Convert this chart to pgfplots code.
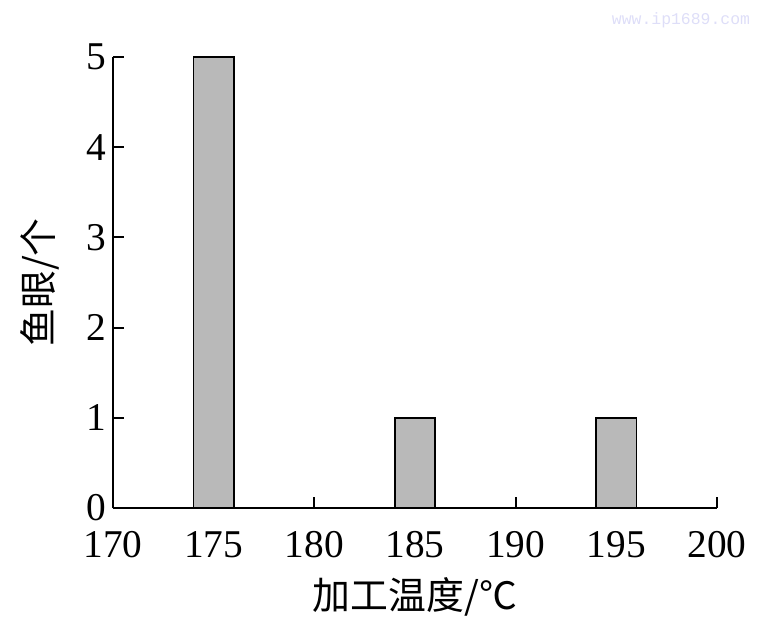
\documentclass[border=0pt]{standalone}
\usepackage{fontspec}
\setmainfont{Liberation Serif}
\setmonofont{Liberation Mono}
\newfontfamily\cjk{Noto Sans CJK SC}
\usepackage{pgfplots}
\pgfplotsset{compat=1.18}
\definecolor{barfill}{RGB}{185,185,185}
\definecolor{wm}{RGB}{222,222,248}
\begin{document}
\begin{tikzpicture}
\begin{axis}[
  name=ax,
  at={(0,0)}, anchor=south west,
  scale only axis,
  width=604bp, height=451bp,
  xmin=170, xmax=200, ymin=0, ymax=5,
  axis x line*=bottom, axis y line*=left,
  axis line style={line width=1.8bp, -},
  xtick={170,175,180,185,190,195,200},
  ytick={0,1,2,3,4,5},
  tick align=inside,
  major tick length=11bp,
  tick style={line width=1.8bp, black},
  /pgf/number format/assume math mode=true,
  /pgf/number format/1000 sep={},
  tick label style={font=\fontsize{39.5}{42}\selectfont},
  xticklabel style={yshift=-20bp},
  yticklabel style={xshift=-3bp},
  xlabel={{\cjk 加工温度/℃}},
  ylabel={{\cjk 鱼眼/个}},
  xlabel style={font=\fontsize{38}{42}\selectfont, at={(axis description cs:0.5,-0.196)}, anchor=center},
  ylabel style={font=\fontsize{38}{42}\selectfont, at={(axis description cs:-0.121,0.5)}, anchor=center},
  clip=false,
]
\addplot[ybar, bar width=40.3bp, fill=barfill, draw=black, line width=1.8bp]
  coordinates {(175,5) (185,1) (195,1)};
\end{axis}
\node[font=\ttfamily\fontsize{16.5}{18}\selectfont, text=wm, anchor=center] at ([xshift=568bp,yshift=488bp]ax.south west) {www.ip1689.com};
\path[use as bounding box] ([xshift=-113bp,yshift=-120bp]ax.south west) rectangle ++(762bp,628bp);
\end{tikzpicture}
\end{document}
